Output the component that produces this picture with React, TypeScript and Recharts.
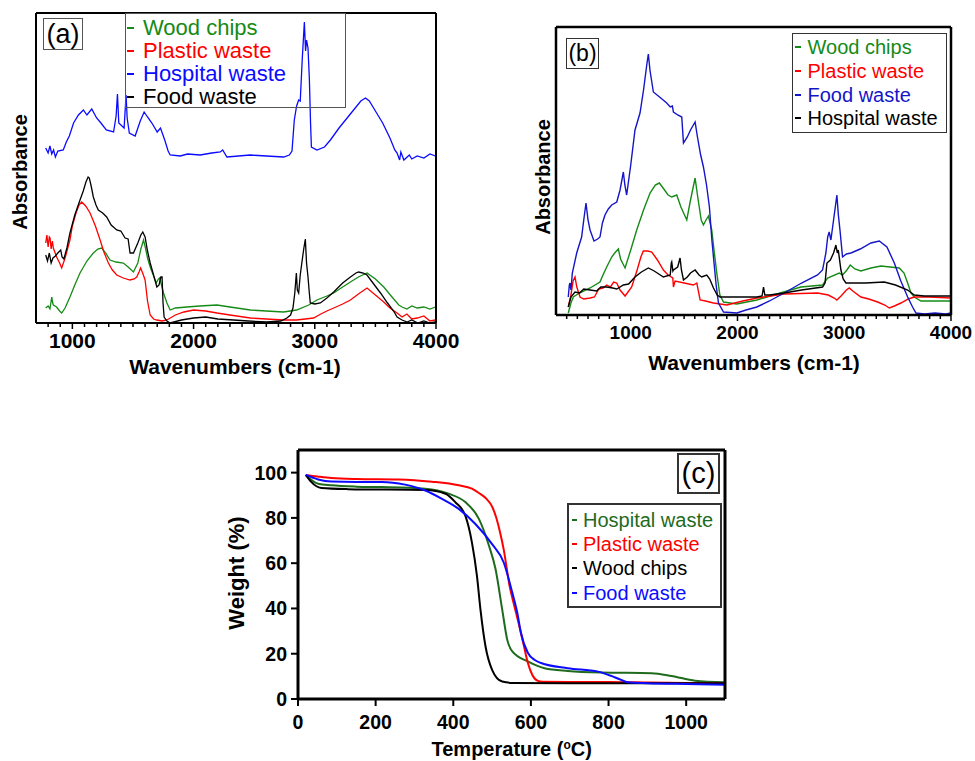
import { LineChart, Line, XAxis, YAxis, Legend } from "recharts";

/* ── Fonts / colours ── */

const FONT = "'Liberation Sans', Arial, Helvetica, sans-serif";
const GREEN = "#168a16";
const DARK_GREEN = "#1e6b1e";
const RED = "#ff0000";
const BLUE = "#0b0bff";
const NAVY = "#1515c8";
const BLACK = "#000000";

/* ── Panel (a): FTIR, wavenumber (cm-1) vs absorbance (a.u.) ── */

const A_DOMAIN_X = [700, 4000];
const A_DOMAIN_Y = [0, 310];
const A_MAJOR = [1000, 2000, 3000, 4000];

const A_WOOD: [number, number][] = [
  [780, 15], [800, 17], [815, 14], [830, 26], [838, 20], [843, 18], [870, 16], [895, 12], [912, 10],
  [940, 15], [980, 26], [1020, 38], [1063, 50], [1120, 62], [1173, 70], [1210, 74], [1242, 75],
  [1275, 70], [1310, 63], [1360, 61], [1421, 60], [1460, 56], [1504, 51], [1540, 60], [1565, 74],
  [1587, 83], [1605, 74], [1620, 65], [1642, 56], [1670, 47], [1692, 40], [1710, 44], [1720, 45],
  [1735, 38], [1752, 30], [1780, 20], [1807, 13], [1850, 15], [1945, 16], [2050, 17], [2193, 18],
  [2300, 16], [2468, 13], [2600, 12], [2743, 11], [2850, 13], [2950, 18], [3018, 23], [3100, 27],
  [3156, 30], [3230, 36], [3294, 41], [3360, 46], [3431, 50], [3500, 44], [3569, 36], [3630, 27],
  [3693, 18], [3720, 16], [3760, 14], [3800, 17], [3845, 15], [3900, 16], [3950, 14], [3995, 16],
];

const A_PLASTIC: [number, number][] = [
  [780, 80], [790, 88], [800, 76], [810, 86], [816, 85], [825, 74], [835, 82], [843, 75], [870, 66],
  [895, 60], [912, 55], [940, 65], [980, 83], [1000, 97], [1030, 110], [1055, 118], [1077, 121],
  [1110, 117], [1146, 110], [1190, 97], [1229, 83], [1260, 71], [1297, 60], [1330, 53], [1366, 48],
  [1420, 45], [1476, 43], [1510, 44], [1531, 46], [1550, 51], [1563, 55], [1580, 50], [1600, 43],
  [1620, 22], [1642, 8], [1670, 4], [1697, 3], [1740, 2], [1780, 3], [1850, 8], [1920, 11],
  [2000, 13], [2100, 12], [2193, 10], [2300, 8], [2468, 5], [2600, 4], [2743, 3], [2850, 3],
  [2990, 5], [3050, 9], [3100, 12], [3156, 15], [3230, 19], [3294, 23], [3360, 29], [3431, 35],
  [3500, 28], [3569, 21], [3620, 15], [3679, 10], [3720, 6], [3760, 9], [3800, 4], [3845, 5],
  [3900, 7], [3950, 2], [3995, 3],
];

const A_HOSPITAL: [number, number][] = [
  [780, 175], [800, 170], [815, 177], [830, 169], [845, 173], [860, 166], [880, 172], [925, 173],
  [950, 181], [975, 187], [1010, 200], [1050, 208], [1091, 213], [1120, 208], [1160, 214],
  [1200, 205], [1229, 201], [1280, 193], [1340, 191], [1361, 207], [1372, 229], [1383, 200],
  [1427, 195], [1443, 228], [1452, 205], [1470, 190], [1518, 187], [1560, 202], [1592, 211],
  [1620, 206], [1656, 200], [1700, 191], [1727, 195], [1762, 183], [1790, 172], [1807, 168],
  [1890, 167], [1950, 169], [2055, 168], [2150, 170], [2220, 171], [2240, 173], [2275, 166],
  [2468, 168], [2600, 167], [2743, 166], [2790, 168], [2812, 172], [2831, 203], [2850, 217],
  [2867, 223], [2880, 222], [2897, 265], [2914, 301], [2924, 272], [2932, 283], [2944, 275],
  [2955, 245], [2965, 200], [2972, 176], [3018, 173], [3080, 176], [3129, 183], [3200, 195],
  [3300, 210], [3380, 222], [3418, 225], [3450, 222], [3500, 212], [3560, 200], [3620, 185],
  [3660, 173], [3679, 170], [3700, 163], [3710, 171], [3735, 163], [3780, 168], [3800, 164],
  [3845, 167], [3900, 165], [3950, 169], [3995, 167],
];

const A_FOOD: [number, number][] = [
  [780, 68], [795, 62], [810, 70], [825, 60], [840, 65], [860, 67], [880, 70], [904, 73], [915, 66],
  [930, 64], [955, 75], [980, 90], [1020, 108], [1063, 123], [1090, 132], [1112, 141], [1130, 146],
  [1140, 145], [1155, 137], [1173, 126], [1195, 118], [1214, 113], [1250, 110], [1283, 106],
  [1320, 98], [1366, 93], [1400, 92], [1435, 85], [1460, 84], [1476, 70], [1504, 70], [1540, 80],
  [1565, 88], [1581, 91], [1600, 86], [1620, 72], [1642, 60], [1670, 48], [1697, 36], [1715, 38],
  [1730, 46], [1740, 46], [1748, 20], [1757, 6], [1780, 2], [1807, 0], [1900, 3], [2000, 5],
  [2100, 6], [2200, 4], [2330, 3], [2450, 2], [2605, 1], [2720, 2], [2770, 5], [2800, 8],
  [2820, 15], [2835, 30], [2848, 50], [2856, 33], [2867, 30], [2880, 48], [2893, 60], [2910, 75],
  [2922, 84], [2932, 60], [2944, 46], [2955, 30], [2963, 20], [3000, 19], [3046, 20], [3100, 25],
  [3156, 31], [3230, 40], [3294, 46], [3340, 50], [3362, 51], [3400, 50], [3431, 48], [3480, 40],
  [3542, 30], [3600, 20], [3650, 12], [3679, 6], [3720, 3], [3762, 1], [3800, 3], [3850, 0],
  [3900, 2], [3950, 0], [3995, 1],
];

/* ── Panel (b): FTIR ── */

const B_DOMAIN_X = [300, 4000];
const B_DOMAIN_Y = [0, 288];
const B_MAJOR = [1000, 2000, 3000, 4000];

const B_WOOD: [number, number][] = [
  [415, 2], [440, 12], [462, 18], [520, 22], [619, 27], [712, 33], [740, 40], [775, 48], [822, 58],
  [850, 62], [884, 66], [905, 56], [947, 47], [1000, 65], [1056, 85], [1120, 105], [1181, 122],
  [1230, 130], [1268, 132], [1310, 126], [1350, 120], [1384, 118], [1431, 120], [1470, 108],
  [1525, 95], [1560, 115], [1603, 137], [1625, 120], [1660, 95], [1681, 90], [1705, 95],
  [1728, 99], [1759, 85], [1780, 65], [1806, 42], [1835, 20], [1869, 13], [1994, 11], [2181, 15],
  [2400, 22], [2594, 28], [2797, 30], [2844, 37], [2953, 42], [2984, 40], [3025, 45], [3056, 50],
  [3100, 46], [3156, 44], [3250, 47], [3344, 49], [3430, 48], [3516, 47], [3560, 42], [3594, 32],
  [3625, 22], [3656, 18], [3719, 14], [3850, 14], [4000, 14],
];

const B_PLASTIC: [number, number][] = [
  [415, 8], [440, 20], [460, 34], [478, 38], [495, 28], [525, 18], [560, 16], [619, 17], [660, 18],
  [700, 26], [740, 27], [775, 30], [810, 28], [840, 33], [869, 32], [900, 25], [947, 19],
  [1009, 28], [1060, 45], [1095, 58], [1118, 64], [1160, 64], [1197, 63], [1250, 55], [1306, 45],
  [1350, 40], [1394, 37], [1400, 28], [1415, 34], [1500, 32], [1587, 30], [1619, 32], [1650, 15],
  [1700, 14], [1775, 12], [1900, 10], [2050, 14], [2181, 17], [2437, 21], [2750, 22], [2850, 20],
  [2906, 17], [2931, 15], [2970, 19], [3020, 25], [3047, 27], [3080, 24], [3156, 18], [3230, 16],
  [3313, 13], [3380, 10], [3422, 7], [3470, 9], [3531, 12], [3600, 16], [3656, 18], [3800, 18],
  [4000, 17],
];

const B_FOOD: [number, number][] = [
  [415, 18], [425, 30], [431, 32], [440, 25], [453, 42], [494, 62], [540, 78], [560, 95], [581, 112],
  [600, 95], [619, 85], [656, 74], [690, 76], [712, 78], [735, 92], [759, 100], [790, 106],
  [822, 110], [869, 113], [900, 125], [931, 143], [945, 130], [962, 120], [1000, 150], [1040, 185],
  [1087, 202], [1120, 225], [1150, 250], [1165, 261], [1180, 245], [1212, 223], [1270, 218],
  [1337, 212], [1370, 208], [1390, 209], [1400, 203], [1440, 200], [1478, 198], [1494, 172],
  [1530, 178], [1560, 185], [1603, 193], [1625, 178], [1655, 160], [1681, 148], [1710, 130],
  [1737, 108], [1760, 75], [1775, 58], [1800, 30], [1822, 12], [1869, 3], [1994, 2], [2080, 5],
  [2181, 8], [2300, 14], [2437, 22], [2600, 32], [2750, 40], [2797, 45], [2828, 62], [2845, 78],
  [2859, 83], [2875, 75], [2900, 95], [2931, 120], [2945, 100], [2960, 85], [2984, 58], [3020, 61],
  [3063, 62], [3150, 66], [3250, 72], [3328, 74], [3400, 68], [3469, 52], [3530, 34], [3594, 18],
  [3640, 8], [3672, 2], [3750, 1], [3850, 2], [3950, 1], [4000, 2],
];

const B_HOSPITAL: [number, number][] = [
  [415, 8], [440, 18], [478, 23], [520, 22], [560, 26], [619, 25], [680, 24], [720, 28], [775, 28],
  [831, 27], [870, 26], [931, 30], [980, 31], [1040, 38], [1100, 43], [1165, 47], [1220, 44],
  [1306, 38], [1370, 40], [1380, 52], [1384, 53], [1395, 44], [1400, 45], [1440, 48], [1462, 57],
  [1475, 45], [1494, 35], [1530, 38], [1560, 42], [1603, 45], [1640, 40], [1665, 38], [1712, 40],
  [1740, 36], [1775, 27], [1810, 20], [1837, 18], [2000, 18], [2181, 18], [2230, 19], [2244, 28],
  [2256, 20], [2300, 20], [2437, 22], [2600, 25], [2797, 28], [2820, 32], [2838, 52], [2870, 55],
  [2900, 62], [2922, 70], [2935, 62], [2944, 65], [2969, 45], [2990, 36], [3016, 32], [3200, 32],
  [3375, 33], [3480, 30], [3594, 25], [3656, 20], [3750, 19], [4000, 19],
];

/* ── Panel (c): TGA, temperature (°C) vs weight (%) ── */

const C_DOMAIN_X = [0, 1100];
const C_DOMAIN_Y = [0, 110];
const C_TICKS_X = [0, 200, 400, 600, 800, 1000];
const C_TICKS_Y = [0, 20, 40, 60, 80, 100];

const C_HOSPITAL: [number, number][] = [
  [20, 99], [52, 95.1], [86, 94.4], [150, 93.8], [216, 93.6], [328, 92.9], [388, 90.7], [431, 87],
  [466, 79.6], [492, 67.7], [509, 57.3], [526, 39.6], [539, 26.2], [552, 21], [592, 16.6],
  [635, 13.6], [695, 12.4], [781, 11.7], [911, 11.4], [962, 10.2], [1023, 8.1], [1100, 7.4],
];

const C_PLASTIC: [number, number][] = [
  [20, 99], [50, 98.3], [86, 97.6], [150, 97.2], [259, 97], [345, 96], [414, 94.4], [448, 92.9],
  [466, 91], [485, 88.5], [500, 85], [510, 80.5], [520, 74], [530, 66], [545, 50], [556, 42],
  [569, 33], [580, 25], [592, 16], [604, 10.5], [618, 8], [630, 7.6], [700, 7.5], [800, 7.5],
  [900, 7.3], [1000, 7.1], [1100, 7],
];

const C_WOOD: [number, number][] = [
  [20, 99], [34, 95.9], [60, 93.2], [129, 92.7], [328, 92.3], [380, 90.7], [405, 87], [431, 81],
  [448, 69.2], [461, 54.4], [470, 39.6], [483, 23.3], [500, 12.9], [526, 7.7], [552, 7.1],
  [700, 7], [900, 7], [1100, 7],
];

const C_FOOD: [number, number][] = [
  [20, 99], [52, 97], [86, 96.1], [150, 95.9], [216, 95.9], [276, 94.7], [328, 92.1], [371, 88.4],
  [414, 84], [457, 77.3], [500, 68.4], [530, 60.3], [552, 47], [565, 38], [574, 29.5], [592, 20.4],
  [610, 17.2], [626, 15.9], [695, 13.6], [773, 12.1], [807, 10.2], [830, 8.6], [850, 7.4],
  [900, 7], [1000, 6.6], [1100, 6.3],
];

/* ── Series (legend order) ── */

interface Series {
  name: string;
  color: string;
  data: [number, number][];
}

const A_SERIES: Series[] = [
  { name: "Wood chips", color: GREEN, data: A_WOOD },
  { name: "Plastic waste", color: RED, data: A_PLASTIC },
  { name: "Hospital waste", color: BLUE, data: A_HOSPITAL },
  { name: "Food waste", color: BLACK, data: A_FOOD },
];

const B_SERIES: Series[] = [
  { name: "Wood chips", color: GREEN, data: B_WOOD },
  { name: "Plastic waste", color: RED, data: B_PLASTIC },
  { name: "Food waste", color: NAVY, data: B_FOOD },
  { name: "Hospital waste", color: BLACK, data: B_HOSPITAL },
];

const C_SERIES: Series[] = [
  { name: "Hospital waste", color: DARK_GREEN, data: C_HOSPITAL },
  { name: "Plastic waste", color: RED, data: C_PLASTIC },
  { name: "Wood chips", color: BLACK, data: C_WOOD },
  { name: "Food waste", color: BLUE, data: C_FOOD },
];

const toPts = (d: [number, number][]) => d.map(([x, y]) => ({ x, y }));

// minor ticks every 100 cm-1, majors carry the labels
const hundreds = (from: number, to: number) => {
  const out: number[] = [];
  for (let v = from; v <= to; v += 100) out.push(v);
  return out;
};

/* ── Helpers ── */

function WaveTick(props: any) {
  const { x = 0, y = 0, payload, major, fontSize, labelDy } = props;
  const v = payload?.value ?? 0;
  const isMajor = major.includes(v);
  return (
    <g>
      <line x1={x} x2={x} y1={y} y2={y + (isMajor ? 6 : 4)} stroke="#000" strokeWidth={1.5} />
      {isMajor && (
        <text
          x={x}
          y={y + labelDy}
          textAnchor="middle"
          fontSize={fontSize}
          fontWeight="bold"
          fontFamily={FONT}
          fill="#000"
        >
          {v}
        </text>
      )}
    </g>
  );
}

function LegendBox({
  items,
  fontSize,
  rowH,
  dashW,
  gap,
  style,
}: {
  items: Series[];
  fontSize: number;
  rowH: number;
  dashW: number;
  gap: number;
  style: React.CSSProperties;
}) {
  return (
    <div style={{ boxSizing: "border-box", fontFamily: FONT, ...style }}>
      {items.map((it) => (
        <div key={it.name} style={{ display: "flex", alignItems: "center", height: rowH, whiteSpace: "nowrap" }}>
          <span style={{ display: "inline-block", width: dashW, height: 2, background: it.color, marginRight: gap }} />
          <span style={{ color: it.color, fontSize, lineHeight: 1 }}>{it.name}</span>
        </div>
      ))}
    </div>
  );
}

function Title({
  children,
  cx,
  cy,
  size,
  vertical = false,
}: {
  children: React.ReactNode;
  cx: number;
  cy: number;
  size: number;
  vertical?: boolean;
}) {
  return (
    <div
      style={{
        position: "absolute",
        left: cx,
        top: cy,
        transform: `translate(-50%, -50%)${vertical ? " rotate(-90deg)" : ""}`,
        fontFamily: FONT,
        fontWeight: "bold",
        fontSize: size,
        lineHeight: 1,
        whiteSpace: "nowrap",
        color: "#000",
      }}
    >
      {children}
    </div>
  );
}

function PanelTag({ text, left, top, w, h, size, border }: any) {
  return (
    <div
      style={{
        position: "absolute",
        left,
        top,
        width: w,
        height: h,
        boxSizing: "border-box",
        border,
        background: "#fff",
        display: "flex",
        alignItems: "center",
        justifyContent: "center",
        fontFamily: FONT,
        fontSize: size,
        lineHeight: 1,
      }}
    >
      {text}
    </div>
  );
}

/* ── Panel (a) ── */

function PanelA() {
  const frame = { stroke: "#000", strokeWidth: 2 };
  return (
    <div style={{ position: "absolute", left: 0, top: 0 }}>
      <LineChart width={480} height={380} margin={{ top: 12, right: 43, bottom: 56, left: 35 }}>
        <XAxis
          type="number"
          dataKey="x"
          domain={A_DOMAIN_X}
          allowDataOverflow
          ticks={hundreds(800, 4000)}
          interval={0}
          height={1}
          tickSize={0}
          tickMargin={0}
          tickLine={false}
          axisLine={frame}
          tick={(p: any) => <WaveTick {...p} major={A_MAJOR} fontSize={21} labelDy={24.5} />}
        />
        <XAxis xAxisId="top" orientation="top" type="number" dataKey="x" domain={A_DOMAIN_X} height={1} tick={false} tickLine={false} axisLine={frame} />
        <YAxis type="number" domain={A_DOMAIN_Y} allowDataOverflow width={1} tick={false} tickLine={false} axisLine={frame} />
        <YAxis yAxisId="right" orientation="right" type="number" domain={A_DOMAIN_Y} width={1} tick={false} tickLine={false} axisLine={frame} />
        {A_SERIES.map((s) => (
          <Line
            key={s.name}
            data={toPts(s.data)}
            dataKey="y"
            name={s.name}
            type="linear"
            stroke={s.color}
            strokeWidth={1.3}
            dot={false}
            isAnimationActive={false}
          />
        ))}
        <Legend
          layout="vertical"
          align="center"
          verticalAlign="middle"
          wrapperStyle={{ left: 125, top: 13, width: "auto", height: "auto" }}
          content={() => (
            <LegendBox
              items={A_SERIES}
              fontSize={22}
              rowH={23}
              dashW={7}
              gap={9}
              style={{ width: 221, height: 95, border: "1px solid #555", paddingTop: 2, paddingLeft: 1 }}
            />
          )}
        />
      </LineChart>
      <PanelTag text="(a)" left={43} top={18} w={40} h={32} size={27} border="1.5px solid #555" />
      <Title cx={20} cy={172} size={20} vertical>
        Absorbance
      </Title>
      <Title cx={235} cy={366} size={21}>
        Wavenumbers (cm-1)
      </Title>
    </div>
  );
}

/* ── Panel (b) ── */

function PanelB() {
  const frame = { stroke: "#000", strokeWidth: 2.5 };
  return (
    <div style={{ position: "absolute", left: 480, top: 0, width: 495, height: 380 }}>
      <LineChart width={495} height={380} margin={{ top: 26, right: 23, bottom: 64, left: 75 }}>
        <XAxis
          type="number"
          dataKey="x"
          domain={B_DOMAIN_X}
          allowDataOverflow
          ticks={hundreds(400, 4000)}
          interval={0}
          height={1}
          tickSize={0}
          tickMargin={0}
          tickLine={false}
          axisLine={frame}
          tick={(p: any) => <WaveTick {...p} major={B_MAJOR} fontSize={19} labelDy={24.3} />}
        />
        <XAxis xAxisId="top" orientation="top" type="number" dataKey="x" domain={B_DOMAIN_X} height={1} tick={false} tickLine={false} axisLine={frame} />
        <YAxis type="number" domain={B_DOMAIN_Y} allowDataOverflow width={1} tick={false} tickLine={false} axisLine={frame} />
        <YAxis yAxisId="right" orientation="right" type="number" domain={B_DOMAIN_Y} width={1} tick={false} tickLine={false} axisLine={frame} />
        {B_SERIES.map((s) => (
          <Line
            key={s.name}
            data={toPts(s.data)}
            dataKey="y"
            name={s.name}
            type="linear"
            stroke={s.color}
            strokeWidth={1.4}
            dot={false}
            isAnimationActive={false}
          />
        ))}
        <Legend
          layout="vertical"
          align="center"
          verticalAlign="middle"
          wrapperStyle={{ left: 312, top: 33, width: "auto", height: "auto" }}
          content={() => (
            <LegendBox
              items={B_SERIES}
              fontSize={20}
              rowH={23.7}
              dashW={6}
              gap={7}
              style={{ width: 155, height: 100, border: "1.5px solid #333", background: "#fff", paddingTop: 1.5, paddingLeft: 1.5 }}
            />
          )}
        />
      </LineChart>
      <PanelTag text="(b)" left={86} top={38} w={33} h={31} size={23} border="1.5px solid #333" />
      <Title cx={62.5} cy={177} size={20} vertical>
        Absorbance
      </Title>
      <Title cx={274} cy={362} size={21}>
        Wavenumbers (cm-1)
      </Title>
    </div>
  );
}

/* ── Panel (c) ── */

function PanelC() {
  const frame = { stroke: "#000", strokeWidth: 3 };
  const tickFont = { fontSize: 19.5, fontWeight: "bold", fontFamily: FONT, fill: "#000" };
  return (
    <div style={{ position: "absolute", left: 220, top: 440, width: 520, height: 321 }}>
      <LineChart width={520} height={321} margin={{ top: 9, right: 14, bottom: 22, left: 18 }}>
        <XAxis
          type="number"
          dataKey="x"
          domain={C_DOMAIN_X}
          allowDataOverflow
          ticks={C_TICKS_X}
          interval={0}
          height={40}
          tickSize={7}
          tickMargin={9}
          tickLine={{ stroke: "#000", strokeWidth: 2 }}
          axisLine={frame}
          tick={tickFont}
        />
        <XAxis xAxisId="top" orientation="top" type="number" dataKey="x" domain={C_DOMAIN_X} height={1} tick={false} tickLine={false} axisLine={frame} />
        <YAxis
          type="number"
          domain={C_DOMAIN_Y}
          allowDataOverflow
          ticks={C_TICKS_Y}
          interval={0}
          width={60}
          tickSize={7}
          tickMargin={4}
          tickLine={{ stroke: "#000", strokeWidth: 2 }}
          axisLine={frame}
          tick={tickFont}
        />
        <YAxis yAxisId="right" orientation="right" type="number" domain={C_DOMAIN_Y} width={1} tick={false} tickLine={false} axisLine={frame} />
        {C_SERIES.map((s) => (
          <Line
            key={s.name}
            data={toPts(s.data)}
            dataKey="y"
            name={s.name}
            type="monotone"
            stroke={s.color}
            strokeWidth={2}
            dot={false}
            isAnimationActive={false}
          />
        ))}
        <Legend
          layout="vertical"
          align="center"
          verticalAlign="middle"
          wrapperStyle={{ left: 347, top: 63, width: "auto", height: "auto" }}
          content={() => (
            <LegendBox
              items={C_SERIES}
              fontSize={20}
              rowH={24.3}
              dashW={5}
              gap={6}
              style={{ width: 155, height: 105, border: "2px solid #333", background: "#fff", paddingTop: 2.5, paddingLeft: 3 }}
            />
          )}
        />
      </LineChart>
      <PanelTag text="(c)" left={457} top={13} w={43} h={41} size={29} border="2px solid #333" />
      <Title cx={16.7} cy={132.5} size={22} vertical>
        Weight (%)
      </Title>
      <Title cx={291.7} cy={309} size={20}>
        Temperature (<span style={{ fontSize: "0.6em", position: "relative", top: "-0.55em" }}>o</span>C)
      </Title>
    </div>
  );
}

export default function App() {
  return (
    <div style={{ position: "absolute", left: 0, top: 0, width: 975, height: 761, background: "#fff", overflow: "hidden" }}>
      <PanelA />
      <PanelB />
      <PanelC />
    </div>
  );
}
